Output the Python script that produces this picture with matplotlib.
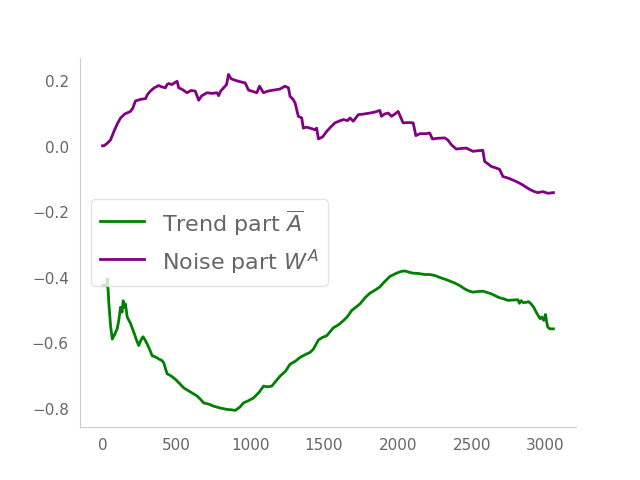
import matplotlib
matplotlib.use("Agg")
import matplotlib.pyplot as plt
import numpy as np

# trend part (green)
trend_x = [0, 9, 28, 32, 38, 43, 55, 66, 80, 99, 110, 122, 132, 140, 147, 155, 167, 190, 212, 230,
           245, 260, 274, 288, 302, 320, 336, 360, 381, 400, 414, 437, 465, 493, 520, 549, 600, 640,
           665, 685, 720, 752, 800, 842, 870, 899, 930, 955, 990, 1022, 1060, 1090, 1120, 1146,
           1175, 1203, 1240, 1270, 1305, 1338, 1380, 1405, 1428, 1462, 1490, 1518, 1563, 1600,
           1631, 1660, 1687, 1715, 1743, 1780, 1811, 1845, 1878, 1910, 1946, 1991, 2020, 2047,
           2075, 2104, 2140, 2182, 2215, 2250, 2290, 2329, 2385, 2420, 2453, 2480, 2509, 2540,
           2576, 2605, 2633, 2660, 2689, 2715, 2745, 2780, 2813, 2824, 2835, 2850, 2869, 2885,
           2903, 2920, 2937, 2950, 2964, 2975, 2988, 3000, 3008, 3016, 3030, 3054]
trend_y = [-0.423, -0.423, -0.425, -0.403, -0.44, -0.48, -0.55, -0.587, -0.575, -0.556, -0.53,
           -0.49, -0.505, -0.47, -0.49, -0.48, -0.52, -0.54, -0.567, -0.59, -0.607, -0.59, -0.58,
           -0.59, -0.602, -0.62, -0.638, -0.642, -0.648, -0.652, -0.659, -0.693, -0.70, -0.71,
           -0.722, -0.736, -0.75, -0.761, -0.772, -0.782, -0.786, -0.792, -0.798, -0.802, -0.803,
           -0.805, -0.795, -0.782, -0.775, -0.767, -0.75, -0.731, -0.733, -0.731, -0.715, -0.70,
           -0.685, -0.664, -0.655, -0.643, -0.633, -0.628, -0.618, -0.59, -0.582, -0.577, -0.553,
           -0.543, -0.531, -0.518, -0.50, -0.49, -0.48, -0.46, -0.447, -0.438, -0.428, -0.412,
           -0.396, -0.386, -0.381, -0.379, -0.383, -0.386, -0.387, -0.39, -0.39, -0.393, -0.40,
           -0.406, -0.416, -0.424, -0.434, -0.44, -0.444, -0.442, -0.441, -0.445, -0.449, -0.455,
           -0.461, -0.464, -0.469, -0.468, -0.467, -0.478, -0.47, -0.476, -0.475, -0.473, -0.48,
           -0.49, -0.505, -0.515, -0.525, -0.52, -0.53, -0.512, -0.535, -0.551, -0.556, -0.556]

# noise part (purple)
noise_x = [0, 9, 30, 54, 80, 100, 122, 150, 189, 205, 223, 260, 291, 305, 324, 350, 381, 400,
           426, 437, 448, 470, 490, 505, 516, 540, 572, 600, 628, 651, 670, 707, 740, 775, 786,
           800, 820, 840, 853, 870, 887, 920, 966, 989, 1010, 1045, 1063, 1090, 1120, 1157, 1200,
           1236, 1259, 1270, 1290, 1304, 1326, 1349, 1360, 1380, 1405, 1439, 1450, 1462, 1490,
           1518, 1545, 1574, 1600, 1631, 1660, 1676, 1698, 1732, 1770, 1811, 1845, 1878, 1889,
           1910, 1935, 1957, 1980, 2002, 2036, 2070, 2104, 2122, 2150, 2190, 2216, 2234, 2270,
           2318, 2340, 2363, 2396, 2430, 2464, 2509, 2540, 2576, 2588, 2610, 2633, 2660, 2689,
           2712, 2750, 2802, 2840, 2892, 2920, 2948, 2982, 3016, 3054]
noise_y = [0.003, 0.003, 0.01, 0.021, 0.05, 0.07, 0.088, 0.10, 0.108, 0.118, 0.14, 0.145, 0.147,
           0.16, 0.17, 0.18, 0.187, 0.183, 0.18, 0.19, 0.193, 0.19, 0.196, 0.2, 0.18, 0.175,
           0.165, 0.172, 0.17, 0.142, 0.155, 0.165, 0.163, 0.165, 0.156, 0.17, 0.18, 0.19, 0.221,
           0.208, 0.205, 0.2, 0.195, 0.173, 0.17, 0.165, 0.185, 0.165, 0.17, 0.173, 0.176, 0.185,
           0.18, 0.154, 0.145, 0.134, 0.093, 0.088, 0.057, 0.06, 0.057, 0.052, 0.057, 0.024, 0.03,
           0.047, 0.06, 0.073, 0.078, 0.083, 0.08, 0.088, 0.078, 0.098, 0.1, 0.103, 0.106, 0.111,
           0.093, 0.1, 0.103, 0.093, 0.1, 0.108, 0.073, 0.074, 0.073, 0.034, 0.04, 0.04, 0.042,
           0.024, 0.026, 0.027, 0.02, 0.006, -0.007, -0.005, -0.004, -0.014, -0.012, -0.011,
           -0.045, -0.052, -0.06, -0.064, -0.069, -0.091, -0.096, -0.106, -0.115, -0.13, -0.136,
           -0.14, -0.137, -0.142, -0.14]

grey = "#666666"
plt.rcParams["axes.edgecolor"] = "#cccccc"
plt.rcParams["xtick.color"] = grey
plt.rcParams["ytick.color"] = grey
plt.rcParams["text.color"] = grey

fig, ax = plt.subplots(figsize=(6.4, 4.8), dpi=100)
ax.plot(trend_x, trend_y, color="green", linewidth=2, label=r"Trend part $\overline{A}$")
ax.plot(noise_x, noise_y, color="purple", linewidth=2, label=r"Noise part $W^A$")

ax.spines["top"].set_visible(False)
ax.spines["right"].set_visible(False)
ax.tick_params(length=0, labelsize=11, pad=8)
ax.set_yticks([0.2, 0.0, -0.2, -0.4, -0.6, -0.8])

ax.legend(loc="center left", fontsize=16, labelcolor=grey, edgecolor="#dddddd",
          handleheight=1.6, labelspacing=0.4)

fig.savefig("out.png", dpi=100)
